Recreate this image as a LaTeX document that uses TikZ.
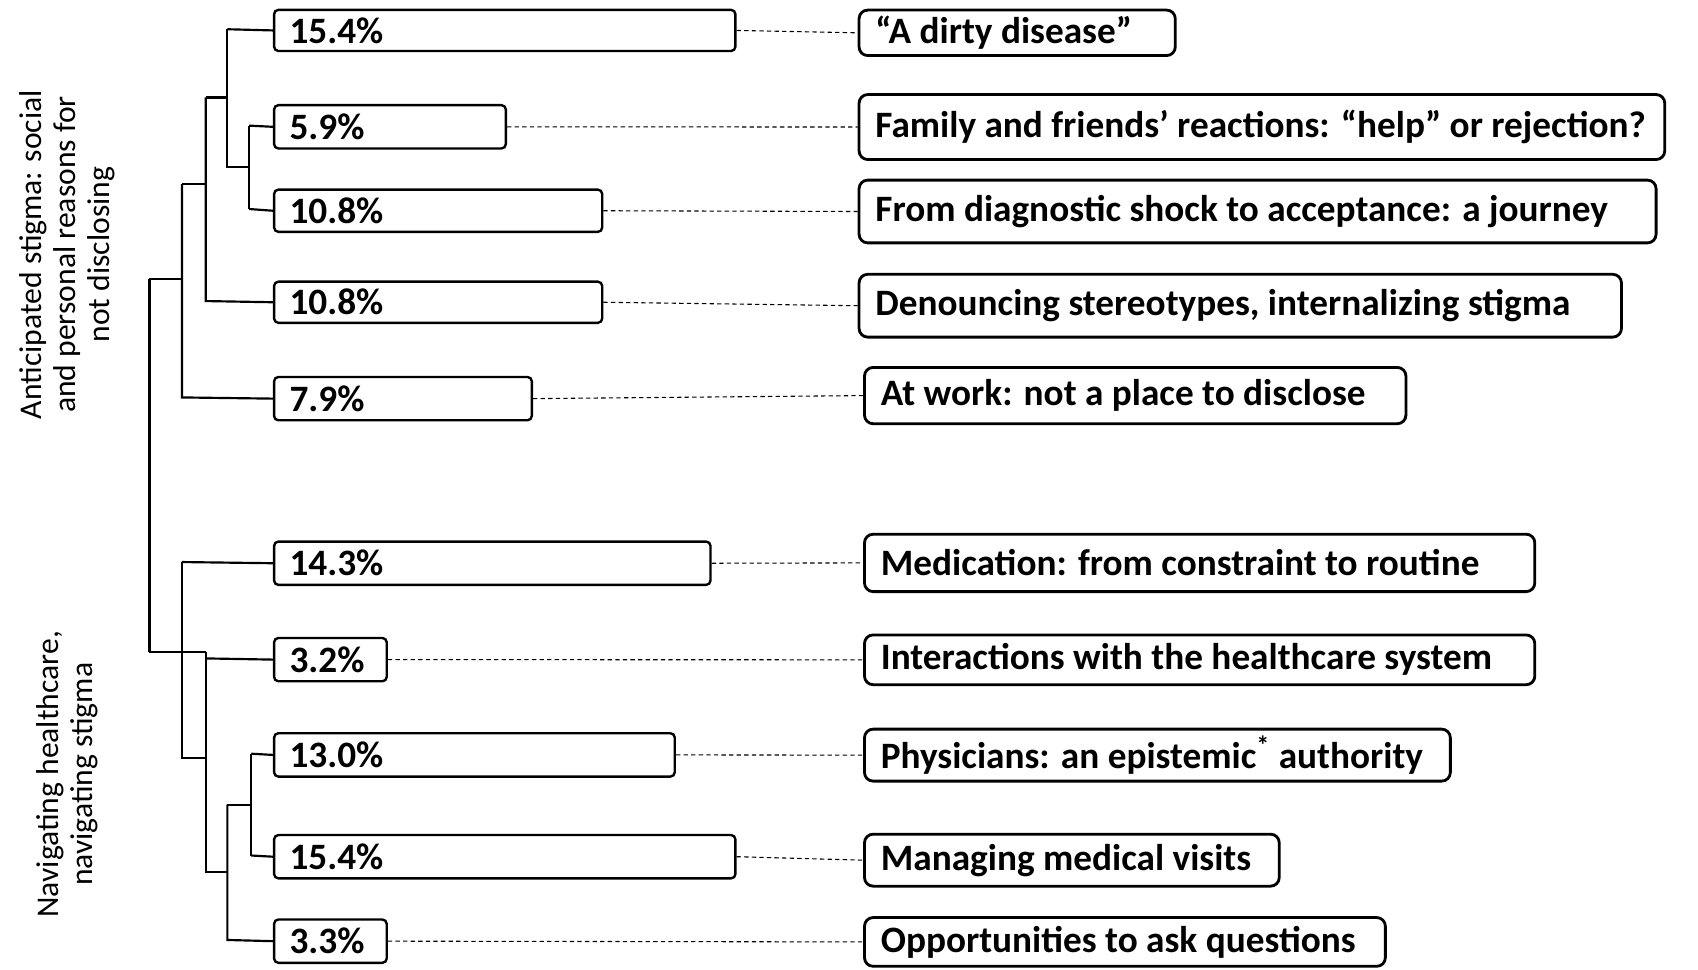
\documentclass[tikz,border=0pt]{standalone}
\usepackage{fontspec}
\setmainfont{Carlito}
\begin{document}
\begin{tikzpicture}[x=0.5pt,y=-0.5pt,
 lbox/.style={draw,line width=1.1pt,rounded corners=2pt,inner sep=0pt,anchor=north west},
 txt/.style={font=\fontsize{17.2pt}{19pt}\selectfont\bfseries,anchor=west},
 tree/.style={line width=1pt},
 dashline/.style={line width=0.5pt,dash pattern=on 2pt off 1.5pt}]
\useasboundingbox (0,0) rectangle (1568,895);
\foreach \n/\xa/\xb/\ya/\yb/\t in {
 a/252/678/8/46/15.4\%, b/252/466/96/136/5.9\%, c/252/555/174/213/10.8\%,
 d/252/555/259/297/10.8\%, e/252/490/347/387/7.9\%, f/252/655/499/539/14.3\%,
 g/252/356/588/628/3.2\%, h/252/622/676/716/13.0\%, i/252/678/770/810/15.4\%,
 j/252/356/848/888/3.3\%}{
 \node[lbox,minimum width=(\xb-\xa)*0.5pt,minimum height=(\yb-\ya)*0.5pt] (L\n) at (\xa,\ya) {};
 \node[txt,inner sep=0pt] at ([xshift=7.5pt]L\n.west) {\t};
}
\foreach \n/\xa/\xb/\ya/\yb/\t in {
 a/792/1084/8/50/{“A dirty disease”},
 b/792/1536/86/146/{Family and friends’ reactions: “help” or rejection?},
 c/792/1528/165/223/{From diagnostic shock to acceptance: a journey},
 d/792/1496/252/310/{Denouncing stereotypes, internalizing stigma},
 e/797/1297/338/390/{At work: not a place to disclose},
 f/797/1416/492/545/{Medication: from constraint to routine},
 g/797/1416/585/631/{Interactions with the healthcare system},
 h/797/1338/672/720/{Physicians: an epistemic\textsuperscript{*} authority},
 i/797/1180/769/817/{Managing medical visits},
 j/797/1278/846/891/{Opportunities to ask questions}}{
 \node[lbox,line width=1.3pt,rounded corners=4pt,minimum width=(\xb-\xa)*0.5pt,minimum height=(\yb-\ya)*0.5pt] (R\n) at (\xa,\ya) {};
 \node[txt,inner sep=0pt] at ([xshift=8pt]R\n.west) {\t};
 \draw[dashline] (L\n.east) -- (R\n.west);
}
% top tree
\coordinate (t1) at (230,116); \coordinate (t1b) at (230,193);
\draw[tree] (t1) -- (Lb.west); \draw[tree] (t1b) -- (Lc.west); \draw[tree] (t1) -- (t1b);
\draw[tree] (210,27) -- (La.west); \draw[tree] (210,27) -- (210,154) -- (230,154);
\draw[tree] (190,90) -- (210,90); \draw[tree] (190,90) -- (190,278) -- (Ld.west);
\draw[tree] (168,170) -- (190,170); \draw[tree] (168,170) -- (168,367) -- (Le.west);
% bottom tree
\draw[tree] (232,696) -- (Lh.west); \draw[tree] (232,790) -- (Li.west); \draw[tree] (232,696) -- (232,790);
\draw[tree] (210,743) -- (232,743); \draw[tree] (210,743) -- (210,868) -- (Lj.west);
\draw[tree] (190,608) -- (Lg.west); \draw[tree] (190,602) -- (190,805) -- (210,805);
\draw[tree] (168,519) -- (Lf.west); \draw[tree] (168,519) -- (168,700) -- (190,700);
\draw[tree] (138,258) -- (168,258); \draw[tree] (138,602) -- (190,602); \draw[tree] (138,258) -- (138,602);
\node[font=\fontsize{14.6pt}{15.8pt}\selectfont,rotate=90,align=center] (g1) at (62,235)
 {Anticipated stigma: social\\and personal reasons for\\not disclosing};
\node[font=\fontsize{14.6pt}{15.8pt}\selectfont,rotate=90,align=center] (g2) at (62,715)
 {Navigating healthcare,\\navigating stigma};
\end{tikzpicture}
\end{document}
